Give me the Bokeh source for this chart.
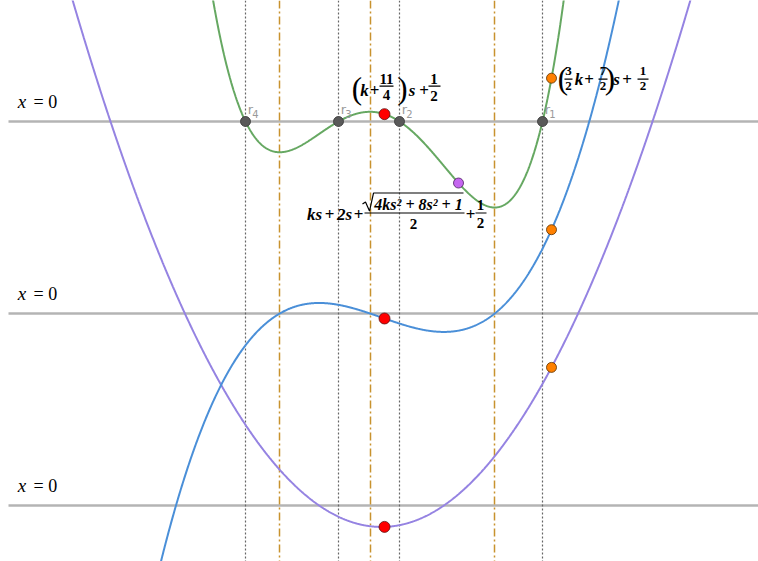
import numpy as np
from bokeh.plotting import figure
from bokeh.models import Range1d, Span, Label
from bokeh.embed import file_html
from bokeh.resources import INLINE

# ---------------- data (1 unit = 50 px) ----------------
roots = [-2.78, -0.92, 0.30, 3.16]          # r4, r3, r2, r1 (zeros of the quartic)
root_names = ["4", "3", "2", "1"]
extrema_x = [-2.10, -0.28, 2.20]            # dash-dot lines (zeros of f')
baselines = [0.0, -3.84, -7.68]             # the three "x = 0" lines
scale_f, scale_df, scale_ddf = 0.0607, 0.0187, 0.0230
red_x = 0.0
orange_x = 3.34
violet_x = 1.48

# ---------------- layout ----------------
PX = 50.0
W, H = 758, 561
x0 = -384 / PX
x1 = x0 + W / PX
y1 = 121 / PX
y0 = y1 - H / PX

p = figure(width=W, height=H, x_range=Range1d(x0, x1), y_range=Range1d(y0, y1),
           output_backend="svg", toolbar_location=None,
           x_axis_type=None, y_axis_type=None, min_border=0,
           outline_line_color=None, background_fill_color="white",
           border_fill_color="white")
p.grid.visible = False

coef = np.poly(roots)
d1 = np.polyder(coef)
d2 = np.polyder(coef, 2)


def green(x):
    return baselines[0] + scale_f * np.polyval(coef, x)


def blue(x):
    return baselines[1] + scale_df * np.polyval(d1, x)


def purple(x):
    return baselines[2] + scale_ddf * np.polyval(d2, x)


# base lines (start a few px in from the left edge)
for b in baselines:
    p.line([x0 + 8 / PX, x1 + 1], [b, b], line_color="#b4b4b4", line_width=2.5,
           level="underlay")
# dotted verticals at the roots
for r in roots:
    p.add_layout(Span(location=r, dimension="height", line_color="#666666",
                      line_width=1.2, line_dash="2 2", level="underlay"))
# dash-dot verticals at the extrema
for e in extrema_x:
    p.add_layout(Span(location=e, dimension="height", line_color="#c8922e",
                      line_width=1.5, line_dash="8 3 2 3", level="underlay"))

xs = np.linspace(x0 - 0.2, x1 + 0.2, 1600)
for fn, col in ((purple, "#9583e2"), (blue, "#4a8fd8"), (green, "#66a862")):
    ys = fn(xs)
    ys = np.where(np.abs(ys) > 30, np.nan, ys)
    p.line(xs, ys, line_color=col, line_width=2)

# points
p.scatter(roots, [baselines[0]] * len(roots), size=10, fill_color="#595959",
          line_color="#333333", line_width=0.8)
for fn in (green, blue, purple):
    p.scatter([red_x], [fn(red_x)], size=11, fill_color="#ff0000",
              line_color="#5a1010", line_width=0.8)
    p.scatter([orange_x], [fn(orange_x)], size=10, fill_color="#ff8000",
              line_color="#5a3000", line_width=0.8)
p.scatter([violet_x], [green(violet_x)], size=10, fill_color="#c566f0",
          line_color="#4a2060", line_width=0.8)


def txt(x, y, dx, dy, s, size, style="bold", font="Liberation Serif",
        color="black", align="center"):
    p.add_layout(Label(x=x, y=y, x_offset=dx, y_offset=dy, text=s,
                       text_font=font, text_font_size=f"{size}px",
                       text_font_style=style, text_color=color,
                       text_align=align, text_baseline="middle"))


def rule(x, y, dxa, dxb, dy, w=1.2):
    p.line([x + dxa / PX, x + dxb / PX], [y + dy / PX] * 2,
           line_color="black", line_width=w)


# "x = 0" labels
for b in baselines:
    txt(x0 + 21.5 / PX, b, 0, 20, "x", 19, style="italic")
    txt(x0 + 33 / PX, b, 0, 20, "= 0", 18, style="normal", align="left")

# root labels
for r, n in zip(roots, root_names):
    txt(r, baselines[0], 5, 12, "r", 13, style="normal", font="DejaVu Sans",
        color="#9a9a9a")
    txt(r, baselines[0], 10, 8, n, 10, style="normal", font="DejaVu Sans",
        color="#9a9a9a")

# label 1: (k + 11/4)s + 1/2  at the red point on the quartic
ax, ay = red_x, green(red_x)
txt(ax, ay, -27.5, 26, "(", 31, style="normal")
txt(ax, ay, -20, 24, "k", 17, style="bold italic")
txt(ax, ay, -10, 24, "+", 17)
txt(ax, ay, 2, 35, "11", 15)
rule(ax, ay, -5, 9, 28)
txt(ax, ay, 2, 19, "4", 15)
txt(ax, ay, 18, 26, ")", 31, style="normal")
txt(ax, ay, 27.5, 24, "s", 17, style="bold italic")
txt(ax, ay, 39.5, 24, "+", 17)
txt(ax, ay, 49.5, 35, "1", 15)
rule(ax, ay, 44, 56, 28)
txt(ax, ay, 49.5, 18, "2", 15)

# label 2: ks + 2s + sqrt(4ks^2+8s^2+1)/2 + 1/2  at the violet point
ax, ay = violet_x, green(violet_x)
txt(ax, ay, -144, -31, "ks", 17, style="bold italic")
txt(ax, ay, -129, -31, "+", 17)
txt(ax, ay, -114, -31, "2s", 17, style="bold italic")
txt(ax, ay, -100, -31, "+", 17)
rad_dx = [-96, -93, -89, -85, 5]
rad_dy = [-21, -19, -28, -10, -10]
p.line([ax + d / PX for d in rad_dx], [ay + d / PX for d in rad_dy],
       line_color="black", line_width=1.2)
txt(ax, ay, -40, -21, "4ks² + 8s² + 1", 16, style="bold italic")
rule(ax, ay, -94, 6, -30)
txt(ax, ay, -45, -41, "2", 15)
txt(ax, ay, 12, -31, "+", 17)
txt(ax, ay, 22, -22, "1", 15)
rule(ax, ay, 17, 28, -30)
txt(ax, ay, 22, -40, "2", 15)

# label 3: (3/2 k + 7/2)s + 1/2  at the orange point on the quartic
ax, ay = orange_x, green(orange_x)
txt(ax, ay, 11.5, 0, "(", 31, style="normal")
txt(ax, ay, 17, 7, "3", 13)
rule(ax, ay, 13, 21, -1)
txt(ax, ay, 17, -8, "2", 13)
txt(ax, ay, 27.5, -1, "k", 17, style="bold italic")
txt(ax, ay, 37.5, -1, "+", 17)
txt(ax, ay, 51.5, 7, "7", 13)
rule(ax, ay, 47, 56, -1)
txt(ax, ay, 51.5, -8, "2", 13)
txt(ax, ay, 58.5, 0, ")", 31, style="normal")
txt(ax, ay, 65, -1, "s", 17, style="bold italic")
txt(ax, ay, 75.5, -1, "+", 17)
txt(ax, ay, 91.5, 7, "1", 13)
rule(ax, ay, 86, 97, -1)
txt(ax, ay, 91.5, -8, "2", 13)

open("out.html", "w").write(file_html(p, INLINE))
